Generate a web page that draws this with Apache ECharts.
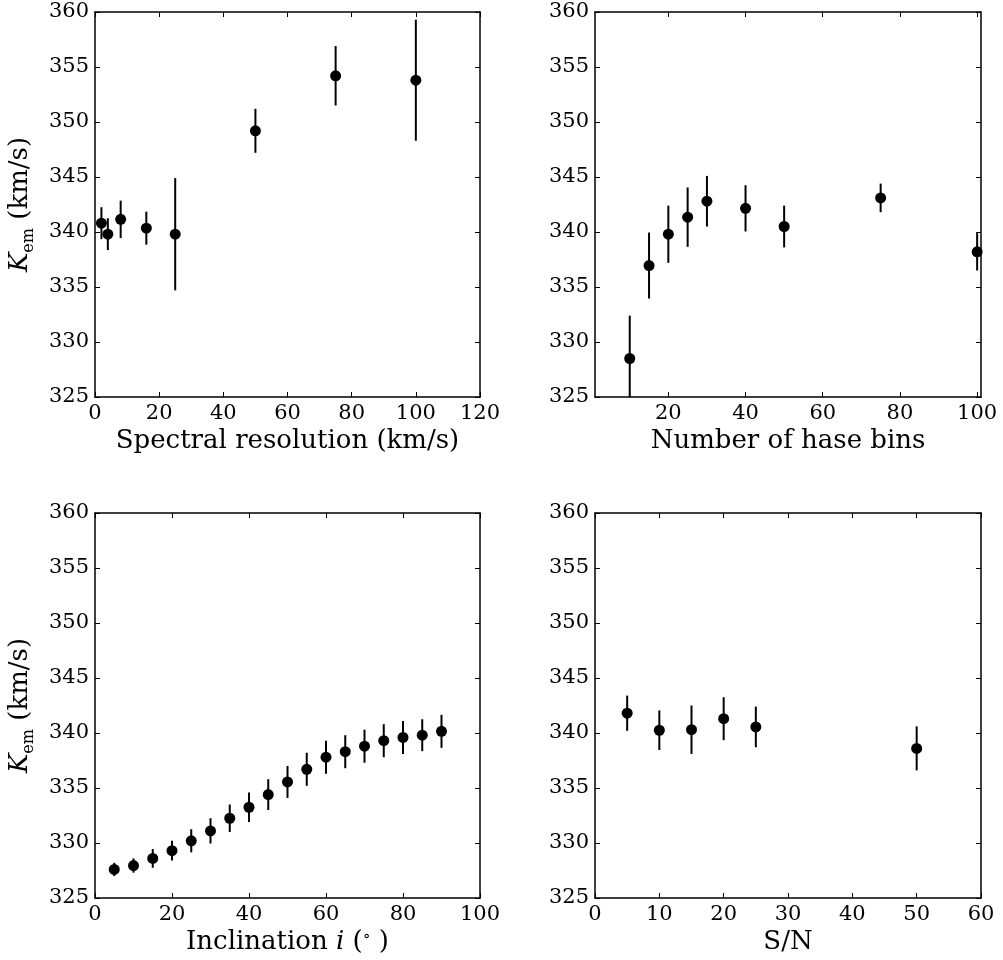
<!DOCTYPE html>
<html>
<head>
<meta charset="utf-8">
<script src="https://cdn.jsdelivr.net/npm/echarts@6/dist/echarts.min.js"></script>
<style>
html,body{margin:0;padding:0;background:#fff;}
#chart{width:1003px;height:960px;}
</style>
</head>
<body>
<div id="chart"></div>
<script>
// ---- data ----
const yTicks = [325, 330, 335, 340, 345, 350, 355, 360];

const specX   = [2, 4, 8, 16, 25, 50, 75, 100];
const specY   = [340.8, 339.8, 341.15, 340.35, 339.8, 349.2, 354.2, 353.8];
const specErr = [1.45, 1.45, 1.7, 1.5, 5.1, 2.0, 2.7, 5.5];

const binsX   = [10, 15, 20, 25, 30, 40, 50, 75, 100];
const binsY   = [328.5, 336.95, 339.8, 341.35, 342.8, 342.15, 340.5, 343.1, 338.2];
const binsErr = [3.9, 3.0, 2.6, 2.7, 2.3, 2.1, 1.9, 1.3, 1.7];
const binsTicks = [20, 40, 60, 80, 100];

const incX   = [5, 10, 15, 20, 25, 30, 35, 40, 45, 50, 55, 60, 65, 70, 75, 80, 85, 90];
const incY   = [327.6, 327.95, 328.6, 329.3, 330.2, 331.1, 332.25, 333.25, 334.4, 335.55, 336.7, 337.8, 338.3, 338.8, 339.3, 339.6, 339.8, 340.15];
const incErr = [0.6, 0.65, 0.85, 0.9, 1.05, 1.15, 1.25, 1.35, 1.4, 1.45, 1.5, 1.5, 1.5, 1.5, 1.5, 1.5, 1.45, 1.5];

const snX   = [5, 10, 15, 20, 25, 50];
const snY   = [341.8, 340.25, 340.3, 341.3, 340.55, 338.6];
const snErr = [1.6, 1.8, 2.2, 1.95, 1.85, 2.0];

// ---- styling ----
const SERIF = '"DejaVu Serif", serif';
const FS = 21;
const NFS = 26;
const panels = [
  {grid:{left:95, top:12, width:385, height:385}, x:specX, y:specY, e:specErr,
   xMin:0, xMax:120, xInt:20, xName:'Spectral resolution (km/s)', yName:true},
  {grid:{left:595, top:12, width:386, height:385}, x:binsX, y:binsY, e:binsErr,
   xMin:1, xMax:101, xCustom:binsTicks, xName:'Number of hase bins', yName:false},
  {grid:{left:95, top:513, width:385, height:385}, x:incX, y:incY, e:incErr,
   xMin:0, xMax:100, xInt:20, xName:'Inclination {i|i} ({sup|∘} )', yName:true},
  {grid:{left:595, top:513, width:386, height:385}, x:snX, y:snY, e:snErr,
   xMin:0, xMax:60, xInt:10, xName:'S/N', yName:false}
];

const grids = [], xAxes = [], yAxes = [], series = [];
const lineStyle = {color:'#000', width:1.5};
const tickIn = {show:true, inside:true, length:5, lineStyle:{color:'#000', width:1}};

panels.forEach((p, i) => {
  grids.push(Object.assign({show:false}, p.grid));
  const xBase = {
    type:'value', gridIndex:i, min:p.xMin, max:p.xMax,
    axisLine:{show:true, onZero:false, lineStyle},
    splitLine:{show:false}
  };
  if (p.xCustom) {
    xBase.axisTick = Object.assign({customValues:p.xCustom}, tickIn);
  } else {
    xBase.interval = p.xInt;
    xBase.axisTick = tickIn;
  }
  const xBottom = Object.assign({}, xBase, {
    position:'bottom',
    axisLabel: Object.assign({fontFamily:SERIF, fontSize:FS, color:'#000', margin:6},
      p.xCustom ? {customValues:p.xCustom} : {}),
    name:p.xName, nameLocation:'middle', nameGap:31,
    nameTextStyle:{fontFamily:SERIF, fontSize:NFS, color:'#000',
      rich:{
        i:{fontFamily:SERIF, fontSize:NFS, fontStyle:'italic', color:'#000'},
        sup:{fontFamily:SERIF, fontSize:16, color:'#000', verticalAlign:'top', lineHeight:18}
      }}
  });
  const xTop = Object.assign({}, xBase, {position:'top', axisLabel:{show:false}});
  xAxes.push(xBottom, xTop);

  const yBase = {
    type:'value', gridIndex:i, min:yTicks[0], max:yTicks[yTicks.length-1],
    interval:yTicks[1]-yTicks[0],
    axisLine:{show:true, onZero:false, lineStyle},
    axisTick:tickIn, splitLine:{show:false}
  };
  const yLeft = Object.assign({}, yBase, {
    position:'left',
    axisLabel:{fontFamily:SERIF, fontSize:FS, color:'#000', margin:6}
  });
  if (p.yName) {
    Object.assign(yLeft, {
      name:'{k|K}{sub|em} (km/s)', nameLocation:'middle', nameGap:58, nameRotate:90,
      nameTextStyle:{fontFamily:SERIF, fontSize:NFS, color:'#000', lineHeight:34,
        rich:{
          k:{fontFamily:SERIF, fontSize:NFS, fontStyle:'italic', color:'#000', lineHeight:34},
          sub:{fontFamily:SERIF, fontSize:16, color:'#000', lineHeight:18, verticalAlign:'bottom'}
        }}
    });
  }
  const yRight = Object.assign({}, yBase, {position:'right', axisLabel:{show:false}});
  yAxes.push(yLeft, yRight);

  const xi = i*2, yi = i*2;
  series.push({
    type:'custom', xAxisIndex:xi, yAxisIndex:yi, silent:true, z:2,
    data: p.x.map((v, k) => [v, p.y[k] - p.e[k], p.y[k] + p.e[k]]),
    renderItem: function(params, api){
      const cs = params.coordSys;
      const a = api.coord([api.value(0), api.value(1)]);
      const b = api.coord([api.value(0), api.value(2)]);
      const clampY = v => Math.max(cs.y, Math.min(cs.y + cs.height, v));
      return {type:'line',
        shape:{x1:a[0], y1:clampY(a[1]), x2:b[0], y2:clampY(b[1])},
        style:{stroke:'#000', lineWidth:2}};
    }
  });
  series.push({
    type:'scatter', xAxisIndex:xi, yAxisIndex:yi, symbol:'circle', symbolSize:11,
    itemStyle:{color:'#000', opacity:1}, z:3, silent:true,
    data: p.x.map((v, k) => [v, p.y[k]])
  });
});

const chart = echarts.init(document.getElementById('chart'), null, {renderer:'canvas'});
chart.setOption({
  animation:false,
  backgroundColor:'#fff',
  grid:grids, xAxis:xAxes, yAxis:yAxes, series
});
</script>
</body>
</html>
